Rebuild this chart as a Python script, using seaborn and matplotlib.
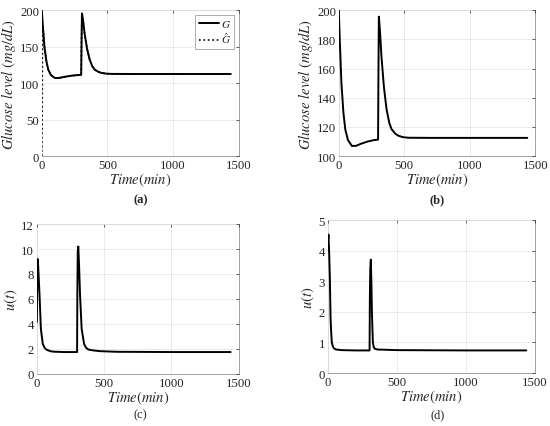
import matplotlib
matplotlib.use("Agg")
import matplotlib.pyplot as plt
import seaborn as sns

sns.set_style("whitegrid")
plt.rcParams["font.family"] = ["Liberation Serif", "DejaVu Serif"]
plt.rcParams["mathtext.fontset"] = "stix"

# glucose G(t) (a)/(b)
t_g = [0, 8, 20, 35, 50, 70, 100, 130, 170, 220, 270, 300, 303, 306, 315, 326,
       345, 365, 385, 403, 430, 454, 490, 530, 700, 1000, 1440]
g = [200, 178, 150, 130, 118, 111, 107, 107, 108.5, 110, 111, 111.3, 160, 195.5,
     185, 168, 147, 132, 123, 118.5, 115.5, 114, 113, 112.6, 112.5, 112.5, 112.5]

# observer estimate G_hat, starts at 0 and joins G
t_ghat = [0, 3, 5, 8, 20, 35, 50, 70, 100, 130, 170, 220, 270, 300, 303, 306, 315,
          326, 345, 365, 385, 403, 430, 454, 490, 530, 700, 1000, 1440]
ghat = [0, 60, 160, 178, 150, 130, 118, 111, 107, 107, 108.5, 110, 111, 111.3, 160,
        195.5, 185, 168, 147, 132, 123, 118.5, 115.5, 114, 113, 112.6, 112.5, 112.5,
        112.5]

# control input u(t), panel (c)
t_uc = [0, 3, 6, 10, 20, 30, 44, 60, 74, 100, 124, 200, 299, 301, 304, 308, 314,
        321, 333, 351, 365, 383, 420, 470, 600, 1000, 1440]
u_c = [4.15, 7.5, 9.2, 8.6, 6.3, 3.6, 2.4, 2.05, 1.93, 1.82, 1.78, 1.75, 1.75, 6.5,
       9.8, 10.2, 8.6, 6.3, 3.6, 2.4, 2.1, 1.95, 1.88, 1.82, 1.77, 1.75, 1.75]

# control input u(t), panel (d)
t_ud = [0, 2, 5, 10, 15, 20, 25, 29, 36, 44, 60, 100, 200, 303, 305, 308, 312, 316,
        320, 324, 327, 333, 339, 360, 500, 1000, 1440]
u_d = [4.18, 4.4, 4.53, 3.9, 3.1, 1.8, 1.3, 1.0, 0.88, 0.81, 0.77, 0.75, 0.74, 0.74,
       2.4, 3.4, 3.71, 3.0, 2.0, 1.4, 1.0, 0.85, 0.8, 0.77, 0.75, 0.74, 0.74]

x_ticks = [0, 500, 1000, 1500]
xlab = r"$Time(min)$"

fig = plt.figure(figsize=(5.5, 4.27), dpi=100)
ax_a = fig.add_axes([0.076, 0.632, 0.358, 0.342])
ax_b = fig.add_axes([0.616, 0.632, 0.357, 0.342])
ax_c = fig.add_axes([0.067, 0.122, 0.367, 0.351])
ax_d = fig.add_axes([0.596, 0.124, 0.376, 0.358])

sns.lineplot(x=t_g, y=g, ax=ax_a, color="black", lw=1.4, label=r"$G$", sort=False)
sns.lineplot(x=t_ghat, y=ghat, ax=ax_a, color="black", lw=1.2, ls=":",
             label=r"$\hat{G}$", sort=False)
sns.lineplot(x=t_g, y=g, ax=ax_b, color="black", lw=1.4, sort=False)
sns.lineplot(x=t_uc, y=u_c, ax=ax_c, color="black", lw=1.4, sort=False)
sns.lineplot(x=t_ud, y=u_d, ax=ax_d, color="black", lw=1.4, sort=False)

ax_a.set_ylim(0, 200)
ax_a.set_yticks([0, 50, 100, 150, 200])
ax_b.set_ylim(100, 200)
ax_b.set_yticks([100, 120, 140, 160, 180, 200])
ax_c.set_ylim(0, 12)
ax_c.set_yticks([0, 2, 4, 6, 8, 10, 12])
ax_d.set_ylim(0, 5)
ax_d.set_yticks([0, 1, 2, 3, 4, 5])

ax_a.set_ylabel(r"$Glucose\ level\ (mg/dL)$", fontsize=10.5, labelpad=1)
ax_b.set_ylabel(r"$Glucose\ level\ (mg/dL)$", fontsize=10.5, labelpad=1)
ax_c.set_ylabel(r"$u(t)$", fontsize=10.5, labelpad=1)
ax_d.set_ylabel(r"$u(t)$", fontsize=10.5, labelpad=1)

for ax in (ax_a, ax_b, ax_c, ax_d):
    ax.set_xlim(0, 1500)
    ax.set_xticks(x_ticks)
    ax.set_xlabel(xlab, fontsize=10.5, labelpad=0)
    ax.grid(True, color="#e6e6e6", lw=0.6)
    ax.tick_params(direction="in", length=2.5, width=0.5, colors="#262626",
                   labelsize=9.2, pad=2, top=True, right=True)
    for s in ax.spines.values():
        s.set_color("#a0a0a0")
        s.set_linewidth(0.7)
        s.set_zorder(0.5)

leg = ax_a.legend(loc="upper right", fontsize=8, handlelength=1.8, handletextpad=0.2,
                  borderpad=0.3, labelspacing=0.2, fancybox=False, framealpha=1,
                  borderaxespad=0.4)
leg.get_frame().set_edgecolor("#a0a0a0")
leg.get_frame().set_linewidth(0.6)

fig.text(0.255, 0.532, "(a)", ha="center", va="center", fontsize=9, fontweight="bold")
fig.text(0.795, 0.532, "(b)", ha="center", va="center", fontsize=9, fontweight="bold")
fig.text(0.255, 0.028, "(c)", ha="center", va="center", fontsize=9)
fig.text(0.795, 0.028, "(d)", ha="center", va="center", fontsize=9)

fig.savefig("out.png", dpi=100)
